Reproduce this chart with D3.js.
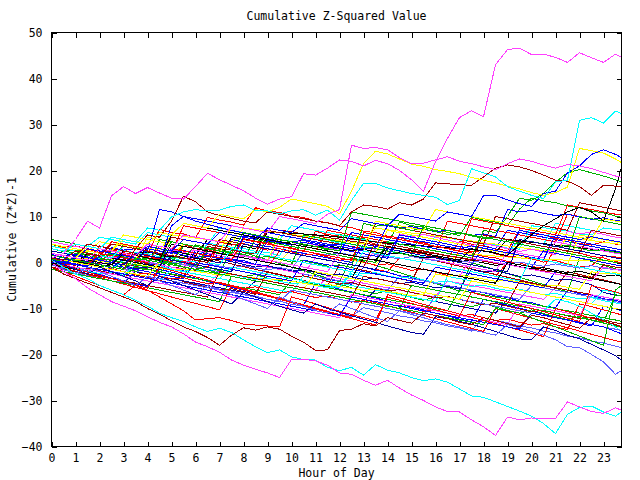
<!DOCTYPE html>
<html><head><meta charset="utf-8">
<script src="https://cdn.jsdelivr.net/npm/d3@7"></script>
<style>
body{margin:0;background:#fff}
svg{display:block;background:#fff}
text{font-family:"DejaVu Sans Mono",monospace;font-size:11.5px;fill:#000}
</style>
</head><body>
<svg id="chart" width="640" height="480"></svg>
<script>
// ---------- data ----------
const hours = [0,0.5,1,1.5,2,2.5,3,3.5,4,4.5,5,5.5,6,6.5,7,7.5,8,8.5,9,9.5,10,10.5,11,11.5,12,12.5,13,13.5,14,14.5,15,15.5,16,16.5,17,17.5,18,18.5,19,19.5,20,20.5,21,21.5,22,22.5,23,23.5,23.75];
const hourTicks = [0,1,2,3,4,5,6,7,8,9,10,11,12,13,14,15,16,17,18,19,20,21,22,23];
const valueTicks = [-40,-30,-20,-10,0,10,20,30,40,50];
const titleText = "Cumulative Z-Squared Value";
const xLabelText = "Hour of Day";
const yLabelText = "Cumulative (Z*Z)-1";

const b1 = [2,1.5,1,0.5,3,2.5,2,1.5, 1,0.5,0,-0.5,2,1.5,1,0.5, 0,-0.5,-1,2.5,2,1.5,1,0.5, 0,-0.5,-1,-1.5,-2,1,0.5,0, -0.5,-1,-1.5,-2,-2.5,-3,0,-0.5, -1,-1.5,-2,-2.5,-3,-3.5,-4,-4.5, -4.8];
const b2 = [4,3.2,2.4,1.6,0.8,0,4,3.2, 2.4,1.6,0.8,0,-0.8,-1.6,-2.4,3, 2.2,1.4,0.6,-0.2,-1,-1.8,-2.6,-3.4, -4.2,1,0.2,-0.6,-1.4,-2.2,-3,-3.8, -4.6,-5.4,-6.2,0,-0.8,-1.6,-2.4,-3.2, -4,-4.8,-5.6,-6.4,1,0.2,-0.6,-1.4, -1.8];
const b3 = [1,0.5,2.5,2,1.5,1,0.5,0, -0.5,-1,3,2.5,2,1.5,1,5, 4.5,4,3.5,3,2.5,2,1.5,1, 0.5,0,4,3.5,3,2.5,2,1.5, 1,0.5,0,-0.5,3.5,3,7,6.5, 6,5.5,5,4.5,4,3.5,3,2.5, 2.2];
const b4 = [-1,-1.5,-2,-2.5,-3,-1,-1.5,-2, -2.5,-3,-3.5,-4,-4.5,-5,-2,-2.5, -3,-3.5,-4,-4.5,-5,-5.5,-6,-3, -3.5,-4,-4.5,-5,-5.5,-6,-6.5,-7, -7.5,-4,-4.5,-5,-5.5,-6,-6.5,-7, -7.5,-8,-5.5,-6,-6.5,-7,-7.5,-8, -8.3];
const b5 = [5,4.5,4,3.5,5.5,5,4.5,4, 6.5,6,5.5,5,4.5,4,7.5,7, 6.5,6,5.5,5,8,7.5,7,6.5, 6,5.5,5,4.5,4,3.5,6,5.5, 5,4.5,4,3.5,3,2.5,2,5, 4.5,4,8.5,8,7.5,7,6.5,6, 5.8];
const b6 = [0,-0.6,-1.2,-1.8,1,0.4,-0.2,-0.8, -1.4,-2,-2.6,-3.2,1.5,0.9,0.3,-0.3, -0.9,-1.5,-2.1,-2.7,-3.3,-3.9,-4.5,-5.1, -0.5,-1.1,-1.7,-2.3,-2.9,-3.5,-4.1,1, 0.4,-0.2,-0.8,-1.4,-2,-2.6,-3.2,-3.8, -4.4,-5,-5.6,-2,-2.6,-3.2,-3.8,-4.4, -4.8];
const b7 = [3,2.5,2,1.5,1,0.5,3.5,3, 2.5,2,1.5,4,3.5,3,2.5,2, 1.5,1,0.5,0,3,2.5,2,1.5, 1,0.5,0,-0.5,2.5,2,1.5,1, 0.5,0,2,1.8,1.6,1.4,1.2,1, 0.8,0.7,0.6,0.5,0.5,0.5,0.4,0.4, 0.4];
const b8 = [1,0.5,0,2,1.5,1,0.5,0, 3.5,3,2.5,2,1.5,5,4.5,4, 3.5,3,6.5,6.5,6.3,6.2,6,5.8, 5.5,5.2,4.8,4.5,4.2,4,3.8,3.6, 3.4,3.2,3,2.8,2.5,2.2,5,4.7, 4.4,4.1,3.8,3.5,3.2,2.9,2.6,2.3, 2.1];
const b9 = [2,1.5,1,0.5,0,-0.5,-1,-1.5, 1,0.5,0,-0.5,-1,-1.5,-2,-2.5, -3,-3.5,-1,-1.5,-2,-2.5,-3,-3.5, -4,-4.5,-5,-5.5,-6,-3,-3.5,-4, -4.5,-5,-5.5,-6,-6.5,-7,-7.5,-8, -5,-5.5,-6,-6.5,-7,-7.5,-8,-8.5, -8.8];
const b10 = [-1.5,-2,-2.5,-3,-3.5,-4,-4.5,-2, -2.5,-3,-3.5,-4,-4.5,-5,-5.5,-6, -6.5,-4,-4.5,-5,-5.5,-6,-6.5,-7, -7.5,-8,-8.5,-6,-6.5,-7,-7.5,-8, -8.5,-9,-9.5,-10,-10.5,-11,-8,-8.5, -9,-9.5,-10,-10.5,-11,-11.5,-12,-12.5, -12.8];
const b11 = [3,2.5,2,1.5,1,4.5,4,3.5, 3,2.5,2,8,7.5,7,6.5,6, 5.5,5,4.5,4,3.5,3,2.5,7, 6.5,6,5.5,5,4.5,4,3.5,3, 2.5,9,8.5,8,7.5,7,6.5,6, 5.5,5,4.5,10.5,10,9.5,9,8.5, 8.2];
const b12 = [0,-0.5,-1,-1.5,-2,-2.5,-3,-1, -1.5,-2,-2.5,-3,-3.5,-4,-4.5,-5, -5.5,-6,-6.5,-7,-4,-4.5,-5,-5.5, -6,-6.5,-7,-7.5,-8,-8.5,-9,-9.5, -10,-10.5,-6,-6.5,-7,-7.5,-8,-8.5, -9,-9.5,-10,-10.5,-11,-11.5,-12,-12.5, -12.8];
const b13 = [4,3.5,3,2.5,2,4,3.5,3, 2.5,11.5,11,10,9,8.3,7.6,7, 6.4,5.8,5.2,4.6,4,3.5,3,2.5, 2,6.5,6,5.5,5,4.5,4,3.5, 3,2.5,2,1.5,1,0.5,0,-0.5, -1,2.5,2,1.5,1,0.5,0,-0.5, -0.8];
const b14 = [1.5,1,0.5,0,-0.5,1.5,1,0.5, 0,-0.5,-1,-1.5,2,1.5,1,0.5, 0,-0.5,-1,-1.5,-2,-2.5,1,0.5, 0,-0.5,-1,3,2.5,2,1.5,1, 0.5,0,-0.5,-1,-1.5,-2,2.5,2, 1.5,1,4.5,4,3.5,3,2.5,2, 1.8];
const b15 = [0.5,0,-0.5,-1,-1.5,-2,-2.5,-3, -3.5,-4,-1.5,-2,-2.5,-3,-3.5,-4, -4.5,-5,-5.5,-6,-6.5,-3,-3.5,-4, -4.5,-5,-5.5,-6,-6.5,-7,-7.5,-8, -8.5,-3,-3.5,-4,-4.5,-5,-5.5,-6, -6.5,-7,-7.5,-8,-8.5,-9,-6,-6.5, -6.8];
const b16 = [2.5,2,1.5,4,3.5,3,2.5,2, 1.5,1,5.5,5,4.5,4,3.5,3, 2.5,2,7,6.5,6,5.5,5,4.5, 4,3.5,3,8.5,8,7.5,7,6.5, 6,5.5,5,4.5,4,10,9.5,9, 8.5,8,7.5,7,13,12.5,12,11.5, 11.2];
const b17 = [4,3.5,3,2.5,2,1.5,1,0.5, 5.5,5,4.5,4,3.5,3,2.5,2, 1.5,1,0.5,6,5.5,5,4.5,4, 3.5,3,2.5,2,7,6.5,6,5.5, 5,4.5,4,3.5,3,2.5,2,1.5, 1,0.5,0,-0.5,6,5.5,5,4.5, 4.3];
const b18 = [-0.5,-1.2,-1.9,-2.6,-3.3,-4,-4.7,-5.4, -6.1,-6.8,-7.5,-8.2,-8.9,-9.6,-10.3,-5, -5.7,-6.4,-7.1,-7.8,-8.5,-9.2,-9.9,-10.6, -11.3,-12,-8,-8.7,-9.4,-10.1,-10.8,-11.5, -12.2,-12.9,-13.6,-14.3,-15,-10,-10.7,-11.4, -12.1,-12.8,-13.5,-14.2,-14.9,-15.6,-16.3,-17, -17.3];
const b19 = [3,2.5,2,1.5,1,0.5,0,-0.5, -1,5,4.5,4,3.5,3,2.5,2, 1.5,1,0.5,0,-0.5,6,5.5,5, 4.5,4,3.5,3,2.5,2,1.5,8, 7.5,7,6.5,6,5.5,5,4.5,4, 3.5,3,2.5,2,10,9.5,9,8.5, 8.2];
const b20 = [2,1.5,1,0.5,0,2.5,2,1.5, 1,0.5,0,3.5,3,2.5,2,1.5, 1,5,4.5,4,3.5,3,2.5,2, 1.5,1,0.5,0,4.5,4,3.5,3, 2.5,2,1.5,1,7,6.5,10,14, 13.5,15,17.5,19.5,20.2,19.5,18.8,18, 17.5];
const b21 = [-1,-1.5,1,0.5,0,-0.5,-1,-1.5, -2,-2.5,-3,-3.5,0,-0.5,-1,-1.5, -2,-2.5,-3,-3.5,-4,0.5,0,-0.5, -1,-1.5,-2,-2.5,-3,-3.5,-4,-4.5, -1,-1.5,-2,-2.5,-3,-3.5,-4,-4.5, -5,-5.5,-2,-2.5,-3,-3.5,-4,-4.5, -4.8];
const b22 = [4.5,4,3.5,3,2.5,2,1.5,1, 0.5,0,-0.5,-1,3.5,3,2.5,2, 1.5,1,0.5,0,-0.5,-1,-1.5,-2, 2,1.5,1,0.5,0,-0.5,-1,-1.5, -2,-2.5,-3,1,0.5,0,-0.5,-1, -1.5,-2,-2.5,-3,-3.5,-4,-1,-1.5, -1.8];
const b23 = [1,0.5,0,-0.5,-1,-1.5,0.5,0, -0.5,-1,-1.5,-2,-2.5,-3,-3.5,-1, -1.5,-2,-2.5,-3,-3.5,-4,-4.5,-5, -5.5,-2.5,-3,-3.5,-4,-4.5,-5,-5.5, -6,-6.5,-7,-7.5,-8,-8.5,-9,-9.5, -10,-10.5,-8,-8.5,-9.5,-11,-12.5,-14, -15];
const b24 = [-1,-1.5,-2,-2.5,-3,-3.5,-4,-4.5, -5,-5.5,-6,-6.5,-7,-7.5,-2,-2.5, -3,-3.5,-4,-4.5,-5,-5.5,-6,-6.5, -7,-7.5,-3,-3.5,-4,-4.5,-5,-5.5, -6,-6.5,-7,-7.5,-8,-8.5,-9,-4, -4.5,-5,-5.5,-6,-6.5,-7,-7.5,-8, -8.3];
const b25 = [5,4.5,4,3.5,3,2.5,6,5.5, 5,4.5,4,3.5,3,2.5,2,8, 7.5,7,6.5,6,5.5,5,4.5,4, 3.5,3,2.5,9,8.5,8,7.5,7, 11.5,11,10.5,10,9.5,9,8.5,8, 7.5,7,6.5,6,5.5,5,9.5,9, 8.8];
const b26 = [-0.5,-1,-1.5,2,1.5,1,0.5,0, -0.5,-1,4,3.5,3,2.5,2,1.5, 1,0.5,0,-0.5,-1,-1.5,-2,-2.5, -3,-3.5,1,0.5,0,-0.5,-1,-1.5, -2,-2.5,-3,-3.5,-4,-4.5,0,-0.5, -1,-1.5,-2,-2.5,-3,-3.5,-4,-4.5, -4.8];
const b27 = [1,0.5,0,-0.5,-1,-1.5,-2,-2.5, -3,-3.5,-4,-4.5,-5,-5.5,-6,-6.5, -7,-7.5,-8,-8.5,-6,-6.5,-7,-7.5, -8,-8.5,-9,-9.5,-10,-10.5,-11,-11.5, -7,-7.5,-8,-8.5,-9,-9.5,-10,-10.5, -11,-11.5,-12,-12.5,-13,-13.5,-14,-14.5, -14.8];
const b28 = [1,0.5,0,-0.5,2,1.5,1,0.5, 0,3.5,3,2.5,2,1.5,1,0.5, 5,4.5,4,3.5,3,2.5,2,1.5, 1,0.5,6.5,6,5.5,5,4.5,4, 3.5,3,2.5,9.5,9,8.5,8,7.5, 7,6.5,6,12.5,12,11.5,11,10.5, 10.3];
const b29 = [-1.5,-2,-2.5,-3,-3.5,-4,-4.5,-5, -5.5,-6,-6.5,-7,-7.5,-8,-8.5,-3, -3.5,-4,-4.5,-5,-5.5,-6,-6.5,-7, -7.5,-8,-8.5,-9,-9.5,-10,-5,-5.5, -6,-6.5,-7,-7.5,-8,-8.5,-9,-9.5, -10,-10.5,-11,-11.5,-12,-12.5,-13,-7, -7.3];
const b30 = [2,1.5,1,3,2.5,2,1.5,1, 0.5,0,8,10,9.5,9,8.5,8, 7.5,7,6.5,6,5.5,5,4.5,4, 3.5,3,2.5,2,1.5,6,5.5,5, 4.5,4,3.5,3,2.5,2,1.5,7, 6.5,6,5.5,5,4.5,4,3.5,3, 2.8];
const b31 = [0,-0.5,-1,-1.5,-2,-2.5,-3,-3.5, -4,-4.5,-5,-5.5,-6,-6.5,-7,-7.5, -8,-8.5,-9,-9.5,-10,-10.5,-11,-11.5, -12,-7,-7.5,-8,-8.5,-9,-9.5,-10, -10.5,-11,-11.5,-12,-12.5,-13,-13.5,-9, -9.5,-10,-10.5,-11,-11.5,-7,-7.5,-8, -8.3];
const b32 = [3.5,3,2.5,2,1.5,1,3.5,3, 2.5,2,1.5,1,0.5,0,-0.5,3, 2.5,2,1.5,1,0.5,0,-0.5,-1, -1.5,-2,2.5,2,1.5,1,0.5,0, -0.5,-1,-1.5,-2,-2.5,-3,-3.5,-4, 1,0.5,0,-0.5,-1,-1.5,-2,-2.5, -2.8];
const b33 = [1.5,1,0.5,0,-0.5,-1,-1.5,3, 2.5,2,1.5,1,0.5,0,5,4.5, 4,3.5,3,2.5,2,1.5,1,0.5, 0,-0.5,-1,4.5,4,3.5,3,2.5, 2,1.5,1,0.5,6,5.5,5,4.5, 4,3.5,3,2.5,2,7,6.5,6, 5.8];
const b34 = [0,-0.7,-1.4,-2.1,-2.8,-3.5,-4.2,-4.9, -5.6,-1,-1.7,-2.4,-3.1,-3.8,-4.5,-5.2, -5.9,-6.6,-7.3,-8,-8.7,-9.4,-10.1,-10.8, -11.5,-12.2,-12.9,-13.6,-7,-7.7,-8.4,-9.1, -9.8,-10.5,-11.2,-11.9,-12.6,-13.3,-14,-14.7, -15.4,-16.1,-10,-10.7,-11.4,-12.1,-12.8,-13.5, -13.9];
const b35 = [1,0.5,0,-0.5,-1,-1.5,-2,-2.5, -3,0,-0.5,-1,-1.5,-2,-2.5,-3, -3.5,-4,-4.5,-5,-5.5,-6,-2,-2.5, -3,-3.5,-4,-4.5,-5,-5.5,-6,-6.5, -7,-7.5,-8,-4,-4.5,-5,-5.5,-6, -6.5,-7,-7.5,-8,-8.5,-9,-9.5,-10, -10.3];
const b36 = [2.5,2,1.5,1,0.5,0,-0.5,2, 1.5,1,0.5,0,-0.5,-1,-1.5,-2, 4,3.5,3,2.5,2,1.5,1,0.5, 0,-0.5,-1,-1.5,3,2.5,2,1.5, 1,0.5,0,-0.5,-1,-1.5,-2,5, 4.5,4,3.5,3,2.5,2,1.5,1, 0.8];
const b37 = [5,4.5,4,3.5,3,2.5,2,1.5, 1,0.5,4.5,4,3.5,3,2.5,2, 6.5,6,5.5,5,4.5,4,3.5,3, 2.5,11,10.5,10,9.5,9,8.5,8, 7.5,7,6.5,6,5.5,5,4.5,4, 3.5,3,2.5,2,1.5,1,0.5,0, -0.3];
const b38 = [0.5,0,-0.5,-1,-1.5,-2,-2.5,-3, -3.5,-4,-4.5,-5,-5.5,-6,-6.5,-7, -7.5,-8,-8.5,-9,-9.5,-10,-10.5,-11, -11.5,-7.5,-8,-8.5,-9,-9.5,-10,-10.5, -11,-11.5,-12,-12.5,-13,-13.5,-14,-14.5, -11,-11.5,-12,-12.5,-13,-13.5,-14,-15, -15.5];

const n1 = [0.5,1.2,0.6,0.1,-0.3,2.8,2.1,1.7, 1.0,0.8,0.2,3.9,3.1,2.8,2.0,1.6, 5.2,4.6,4.3,3.5,3.2,2.4,6.8,6.1, 5.7,5.0,4.8,4.0,3.3,3.0,2.2,1.9, 1.1,0.8,4.6,4.0,3.7,2.9,2.6,7.1, 6.3,6.0,5.2,4.9,4.1,3.8,4.5,4.0, 3.8];
const n2 = [1.8,1.1,0.7,-0.1,-0.4,-1.2,0.9,0.4, -0.3,-0.6,-1.4,-1.7,2.6,1.9,1.5,0.7, 0.4,-0.4,-0.7,-1.5,-1.8,-2.6,-2.9,-3.7, -4.0,-4.8,-1.0,-1.7,-2.1,-2.9,-3.2,-4.0, -4.3,-5.1,-5.4,-6.2,-6.5,-7.3,-7.6,-8.4, -8.7,-9.5,-9.8,-6.0,-6.8,-7.1,-7.9,-8.2, -8.6];
const n3 = [-0.5,-0.9,1.4,1.0,0.3,0.1,-0.6,-0.8, 2.2,1.9,1.1,0.9,3.8,3.2,2.9,2.1, 1.8,1.0,5.5,4.9,4.6,3.8,3.5,2.7, 6.1,5.6,5.2,4.4,4.1,8.8,8.0,7.7, 6.9,6.6,5.8,9.9,9.2,8.8,8.0,11.6, 14.0,13.4,13.0,12.3,11.9,11.2,10.8,10.1, 9.8];
const n4 = [1.0,0.4,0.1,-0.5,3.6,3.0,2.7,2.0, 1.7,7.2,6.5,6.2,5.4,9.8,9.2,8.8, 8.1,11.9,11.2,10.9,10.1,9.8,9.0,8.7, 7.9,7.6,6.8,6.5,5.7,5.4,4.6,4.3, 3.5,3.2,2.4,2.1,1.3,1.0,0.2,-0.1, -0.9,-1.2,3.1,2.4,2.1,1.3,1.0,0.2, 0.0];
const n5 = [-1.0,-1.6,-2.1,-2.9,-3.2,-4.0,-4.3,-1.9, -2.5,-2.9,-3.6,-4.0,-4.7,-5.1,-5.8,-6.2, -6.9,-7.3,-8.0,-8.4,-9.1,-9.5,-10.2,-10.6, -11.3,-11.7,-9.8,-10.4,-10.9,-11.6,-12.0,-12.7, -13.1,-13.8,-14.2,-14.9,-12.0,-12.6,-13.1,-13.8, -14.2,-14.9,-15.3,-16.0,-16.4,-17.1,-17.5,-18.2, -18.5];
const n6 = [2.5,2.0,1.8,1.1,0.9,3.0,2.6,2.1, 1.9,1.2,1.0,0.3,0.1,4.2,3.8,3.3, 3.1,2.4,2.2,1.5,6.0,5.6,5.1,4.9, 4.2,4.0,3.3,3.1,2.4,2.2,1.5,1.3, 5.8,5.4,4.9,4.7,4.0,3.8,3.1,2.9, 8.0,7.6,7.1,6.9,6.2,6.0,7.5,7.2, 7.0];
const n7 = [0.2,-0.3,-0.6,1.8,1.4,1.1,0.6,0.3, -0.2,-0.5,-1.0,-1.3,-1.8,3.5,3.0,2.7, 2.2,1.9,7.5,7.0,6.7,6.2,5.9,5.4, 5.1,4.6,4.3,3.8,3.5,3.0,2.7,2.2, 1.9,1.4,1.1,0.6,0.3,-0.2,-0.5,-1.0, -1.3,-1.8,-2.1,-2.6,-2.9,-3.4,-0.5,-1.0, -1.2];
const n8 = [0.0,-0.8,-1.3,-2.1,-2.6,-3.4,-3.9,-4.7, -5.2,-1.5,-2.1,-2.8,-3.4,-4.1,-4.7,-5.4, -6.0,-6.7,-7.3,-8.0,-8.6,-9.3,-4.5,-5.1, -5.8,-6.4,-7.1,-7.7,-8.4,-9.0,-9.7,-10.3, -11.0,-11.6,-12.3,-12.9,-8.0,-8.6,-9.3,-9.9, -10.6,-11.2,-11.9,-12.5,-13.2,-13.8,-9.5,-10.1, -10.5];
const n9 = [3.5,3.1,2.6,2.4,4.5,4.0,3.8,3.3, 3.1,2.6,6.0,5.7,5.3,5.0,4.6,4.3, 7.5,7.2,6.8,6.5,6.1,5.8,5.4,5.1, 4.7,4.4,4.0,7.5,7.1,6.8,6.4,6.1, 5.7,5.4,5.0,4.7,4.3,4.0,3.6,3.3, 2.9,2.6,2.2,5.5,5.1,4.8,4.4,4.1, 3.9];
const n10 = [0.8,0.1,0.4,-0.4,-0.9,-0.5,-1.3,-1.9, -1.4,-2.2,-0.2,-0.9,-1.5,-1.0,-1.8,-2.5, -3.1,-2.6,-3.4,-4.0,-3.3,-4.1,-4.8,-5.3, -4.7,-5.5,-6.2,-6.8,-6.1,-6.9,-7.6,-8.2, -7.5,-8.3,-9.0,-9.6,-8.9,-9.7,-10.4,-11.0, -10.3,-11.1,-11.8,-12.4,-11.7,-12.5,-13.2,-13.8, -14.1];
const n11 = [-0.2,0.5,0.0,-0.6,1.5,0.9,1.4,0.8, 0.2,-0.4,2.8,2.2,2.7,2.1,1.5,0.9, 1.4,0.8,0.2,4.5,3.9,4.4,3.8,3.2, 2.6,3.1,2.5,1.9,1.3,6.2,5.6,6.1, 5.5,4.9,4.3,3.7,4.2,3.6,3.0,2.4, 2.9,2.3,1.7,6.8,6.2,6.7,6.1,5.5, 5.3];
const n12 = [1.2,0.6,0.9,0.2,-0.4,-0.1,-0.7,-1.3, -1.0,-1.6,1.5,0.9,1.2,0.5,-0.1,0.2, -0.4,-1.0,-0.7,-1.3,-1.9,-1.6,-2.2,-2.8, -2.5,-3.1,-3.7,-3.4,-4.0,-4.6,-4.3,-4.9, -5.5,-5.2,-5.8,-1.5,-2.1,-1.8,-2.4,-3.0, -2.7,-3.3,-3.9,-3.6,-4.2,-4.8,-6.5,-7.1, -7.3];
const n13 = [4.0,3.3,3.6,2.9,2.2,2.5,1.8,1.1, 1.4,0.7,0.0,0.3,-0.4,-1.1,4.5,3.8, 4.1,3.4,2.7,3.0,2.3,1.6,1.9,1.2, 0.5,0.8,0.1,-0.6,-0.3,-1.0,-1.7,-1.4, -2.1,-2.8,3.0,2.3,2.6,1.9,1.2,1.5, 0.8,0.1,0.4,-0.3,-1.0,-0.7,1.5,1.2, 1.0];
const n14 = [-1.0,-1.5,-1.2,-1.9,-2.4,-2.1,-2.8,-0.5, -1.0,-0.7,-1.4,-1.9,-1.6,-2.3,-2.8,-2.5, -3.2,-3.7,-3.4,-4.1,-4.6,-4.3,-5.0,-5.5, -5.2,-2.0,-2.5,-2.2,-2.9,-3.4,-3.1,-3.8, -4.3,-4.0,-4.7,-5.2,-4.9,-5.6,-6.1,-5.8, -6.5,-7.0,-6.7,-7.4,-7.9,-7.6,-8.3,-8.8, -9.0];
const n15 = [0.5,0.0,0.3,-0.3,-0.8,-0.5,2.5,2.0, 2.3,1.7,1.2,1.5,0.9,0.4,0.7,5.5, 5.0,5.3,4.7,4.2,4.5,3.9,3.4,3.7, 3.1,2.6,2.9,2.3,1.8,2.1,1.5,1.0, 1.3,0.7,0.2,0.5,-0.1,-0.6,-0.3,-0.9, -1.4,-1.1,-1.7,-2.2,-1.9,-2.5,-3.0,-2.7, -3.0];
const n16 = [2.0,1.5,1.8,1.2,0.7,3.2,2.7,3.0, 2.4,1.9,2.2,1.6,1.1,1.4,0.8,0.3, 5.8,5.3,5.6,5.0,4.5,4.8,4.2,3.7, 4.0,3.4,2.9,3.2,8.0,7.5,7.8,7.2, 6.7,7.0,6.4,5.9,6.2,5.6,11.5,11.0, 11.3,10.7,10.2,10.5,9.9,9.4,9.7,9.1, 9.0];
const n17 = [-0.3,-0.9,-1.5,-1.2,-1.8,-2.4,-3.0,-2.7, -3.3,-3.9,-4.5,-4.2,-4.8,-5.4,-6.0,-5.7, -6.3,-6.9,-2.0,-2.6,-3.2,-2.9,-3.5,-4.1, -4.7,-4.4,-5.0,-5.6,-6.2,-5.9,-6.5,-7.1, -7.7,-7.4,-8.0,-8.6,-9.2,-8.9,-9.5,-10.1, -10.7,-10.4,-11.0,-11.6,-12.2,-11.9,-12.5,-13.1, -13.4];
const n18 = [1.5,1.0,0.6,0.9,0.3,-0.1,-0.6,-0.3, -0.8,-1.2,-1.7,-1.4,-1.9,-2.3,-2.8,-2.5, -3.0,-3.4,-3.9,-3.6,-4.1,-4.5,-5.0,-4.7, -5.2,-5.6,-6.1,-5.8,-6.3,-6.7,-7.2,-6.9, -2.5,-3.0,-2.7,-3.2,-3.6,-4.1,-3.8,-4.3, -4.7,-5.2,-4.9,-5.4,-5.8,-2.0,-2.5,-2.2, -2.5];
const n19 = [-1.5,-1.0,-1.4,-1.9,-1.5,-2.0,-2.4,0.5, 0.0,-0.4,0.1,-0.4,-0.8,-0.3,-0.8,-1.2, -0.7,-1.2,-1.6,-1.1,-1.6,2.5,2.0,1.6, 2.1,1.6,1.2,1.7,1.2,0.8,1.3,0.8, 0.4,0.9,0.4,0.0,0.5,0.0,-0.4,0.1, -0.4,-0.8,-0.3,-0.8,-1.2,-0.7,-1.2,-1.6, -1.4];
const n20 = [3.0,2.4,2.7,2.1,1.5,1.8,1.2,0.6, 0.9,0.3,-0.3,0.0,-0.6,2.5,1.9,2.2, 1.6,1.0,1.3,0.7,0.1,0.4,-0.2,-0.8, -0.5,-1.1,8.5,7.9,8.2,7.6,7.0,7.3, 6.7,6.1,6.4,5.8,5.2,5.5,4.9,4.3, 4.6,4.0,3.4,3.7,3.1,2.5,2.8,2.2, 2.0];
const n21 = [0.0,-0.6,-0.3,-1.0,-1.6,-1.3,-2.0,-2.6, -2.3,-3.0,-3.6,-3.3,-4.0,-4.6,-4.3,-5.0, -5.6,-5.3,-6.0,-6.6,-6.3,-7.0,-7.6,-7.3, -8.0,-8.6,-8.3,-9.0,-9.6,-9.3,-10.0,-10.6, -10.3,-11.0,-11.6,-11.3,-12.0,-12.6,-12.3,-13.0, -13.6,-13.3,-14.0,-14.6,-9.0,-9.6,-10.3,-11.0, -11.4];
const n22 = [-0.5,0.2,-0.3,-0.8,1.5,1.0,0.5,0.0, 3.0,2.5,2.0,2.6,2.1,1.6,1.1,0.6, 0.1,-0.4,4.8,4.3,3.8,4.4,3.9,3.4, 2.9,2.4,1.9,1.4,0.9,5.5,5.0,4.5, 4.0,3.5,3.0,3.6,3.1,2.6,2.1,1.6, 1.1,0.6,6.0,5.5,5.0,5.6,5.1,4.6, 4.4];

// prominent traces
const blackLate = [2,1.5,1,0.5,0,-0.5,2,1.5, 1,0.5,6,8.5,8,7.5,7,6.5, 6,5.5,5,4.5,4,3.5,3,2.5, 2,1.5,1,0.5,3.5,3,2.5,2, 1.5,1,0.5,3,2.5,2,1.5,4, 6,8,9.5,11,12,11,9,16, 20.8];
const greenLate = [1.5,1,0.5,0,-0.5,-1,-1.5,1, 0.5,0,-0.5,-1,-1.5,-2,-2.5,-3, -3.5,-4,-4.5,-5,-5.5,-6,-6.5,-7, -7.5,-8,-8.5,-9,-9.5,-10,-10.5,-11, -11.5,-12,-12.5,-13,-13.5,-10,-10.5,-11, -12,-13,-14,-15,-16,-17,-18,-6, -5];
const redLow = [-1,-2,-3,-4,-5,-6,-7,-5, -6,-7.5,-9,-10.5,-12.5,-12.2,-12,-12.6, -13.4,-13.6,-13.8,-14,-7.5,-8.2,-9,-9.8, -10.6,-11.3,-12,-12.6,-7.5,-8.2,-8.9,-9.6, -10.3,-11,-11.7,-6.5,-7.2,-7.9,-8.6,-9.3, -10,-10.7,-11.4,-12.1,-12.8,-5,-5.7,-6.4, -6.8];
const navyLow = [0.5,-0.5,-1.5,-2.5,-1,-2,-3,-4, -5,-3,-4,-5,-6,-7,-8,-9, -6.5,-7.5,-8.5,-9.5,-10.3,-11,-9,-10, -10.8,-11.6,-12.3,-13,-13.8,-14.5,-15.2,-15.6, -11.8,-12.2,-12.8,-13.4,-14.2,-15,-15.8,-16.6, -16.8,-14,-14.8,-15.8,-16.6,-17.8,-19,-20.3, -21.2];
const slateLow = [-0.5,-1.5,-2.5,-1,-2,-3,-4,-5, -3,-4,-5,-6,-7,-5,-6,-7, -8,-9,-10,-7.5,-8.5,-9.5,-10.5,-11, -9,-10,-11,-12,-12.8,-10.5,-11.3,-12, -12.8,-13.5,-14,-14.6,-15.2,-15.8,-13.5,-14.2, -15,-15.8,-16.8,-18.3,-18.5,-20,-21.6,-24.3, -23.5];
const darkRedLow = [-1,-2.5,-3.5,-4.5,-5.5,-6.5,-7.5,-8.5, -10,-11.2,-12.7,-14,-15,-16.3,-18,-15.8, -14.2,-14.7,-14,-14.5,-16,-17.3,-19.1,-19, -14.8,-14.5,-13.3,-13.8,-12,-12.6,-13.2,-11, -11.5,-12.2,-13,-13.5,-12,-12.6,-13.3,-14, -11.5,-12,-12.8,-13.5,-14.3,-12,-12.7,-13.5, -14];
const blueHigh = [0,-0.5,1.5,1,0.5,0,2,1.5, 3.5,3,2.5,5,4.5,4,6.5,6, 5.5,5,7.5,7,6.5,8.5,8,7.5, 7,9.5,9,8.5,8,10.5,10,9.5, 9,11,10.5,10,14.5,14.6,13.6,12.8, 12.2,15,15.5,19.5,21,23.5,24.5,23.5, 22.8];
const darkRedHigh = [1,0.5,2.5,2,1.5,4,3.5,3, 6,5.5,9,14.4,13.2,11,10.2,9.6, 9,8.6,11,10.5,10,9.5,9,8.6, 8,11,12.5,12.2,11.6,13,12.5,13.8, 17.3,17.1,16.9,16.8,18.6,20.5,21.2,20.8, 20,19,17.9,17.7,16.5,14.6,16.8,16.6, 16.4];
const yellowHigh = [2,1.5,1,3.5,3,2.5,5,4.5, 4,6.5,6,8.5,8,7.5,10.5,10, 9.5,11.5,11,12,13.8,13.3,12.8,12.2, 10.6,15.5,21.5,24.2,23.6,22.5,21.4,20.9, 20.2,19.8,19.3,18.5,17.9,17.3,16.6,16, 15.2,14.6,15.2,16.4,24.8,24.3,23.8,22.5, 21.7];
const cyanHigh = [3,2.5,4,3.5,3,5.5,5,4.5, 7.5,7,9.9,11,11.5,11.2,11.4,12.2, 12.5,11.3,11.2,10.6,11.2,11.5,10.3,11.4, 9.2,13.5,17.2,17.2,16.2,15.6,15,14.6, 14.2,12.6,13.5,20.4,19.5,18.6,16.5,15.5, 14.6,13.9,17.5,17.9,30.9,31.5,30.3,32.9, 32.4];
const magentaSecond = [2,1.5,1,0.5,3,2.5,2,1.5, 4,3.5,3,6,5.5,5,4.5,8, 7.5,7,6.5,10,9.5,9,8.5,10.5, 11.5,25.5,24.8,25,24.5,22.8,21.5,21.6, 22.3,23,22,21.5,20.8,20.2,21.5,22.5, 22,21.2,20.5,21.3,21,20.4,19.6,18.8, 18.5];
const magentaTop = [1,2,5,9,7.5,14.5,16.5,15, 16.3,15.1,14,13.8,16.5,19.4,18,16.8, 15.6,14,12.7,13.8,14.3,19.3,19,20.5, 22.3,22,21,22.2,21.5,20,18,15.5, 21.9,27,31.5,33,31.7,43,46.3,46.6, 45.2,45.3,44.6,43.5,45.6,44.5,43.5,45.3, 44.6];
const cyanBottom = [0.5,-1,-2.5,-3.5,-5,-6,-7,-8.2, -9.5,-11,-12,-12.8,-14,-15,-14.3,-15.2, -16.8,-18.3,-19.6,-19,-20.5,-21.1,-21.2,-22.8, -23.5,-22.8,-24.5,-22.2,-23.4,-24,-25,-25.7, -25.3,-26,-27.5,-29,-29.3,-30.3,-31.3,-32.3, -33.4,-35,-37.2,-33,-31.5,-31.2,-32.5,-33.4, -32.5];
const magentaBottom = [0,-2,-3.5,-5.5,-7,-8.5,-9.5,-10.5, -11.8,-13,-14,-15.5,-17.3,-18.3,-19.5,-21.2, -22.3,-23.2,-24,-25,-21.1,-21,-21.4,-22.3, -24,-24.3,-25.6,-26.7,-25.6,-27.3,-28.8,-30, -31.4,-32.4,-32.5,-34.2,-35.7,-37.6,-33.6,-34.2, -33.8,-34,-33.9,-30.3,-31.4,-32.4,-32.8,-31.6, -32.1];

const seriesValues = [b1,n1,b2,n2,b3,n3,b4,n4,b5,n5,b6,n6,b7,n7,b8,n8,b9,n9,b10,n10,
  b11,n11,b12,n12,b13,n13,b14,n14,b15,n15,b16,n16,b17,n17,b18,n18,b19,n19,b20,n20,
  b21,n21,b22,n22,b23,b24,b25,b26,b27,b28,b29,b30,b31,b32,b33,b34,b35,b36,b37,b38,
  blackLate,greenLate,redLow,navyLow,slateLow,darkRedLow,blueHigh,darkRedHigh,yellowHigh,cyanHigh,
  magentaSecond,magentaTop,cyanBottom,magentaBottom];
const seriesColorNames = ["red","red","green","blue","blue","green","magenta","red","cyan","slate",
  "darkred","cyan","yellow","darkred","black","blue","slate","yellow","navy","green",
  "red","magenta","green","navy","blue","red","magenta","cyan","cyan","black",
  "darkred","blue","yellow","darkred","red","yellow","green","slate","green","green",
  "blue","red","magenta","blue","cyan","darkred","yellow","black","slate","red",
  "green","blue","magenta","cyan","darkred","red","yellow","navy","green","blue",
  "black","green","red","navy","slate","darkred","blue","darkred","yellow","cyan",
  "magenta","magenta","cyan","magenta"];

// ---------- style ----------
const palette = {red:"#ff0000",green:"#00b000",blue:"#0000ff",magenta:"#ff40ff",cyan:"#00ffff",
  darkred:"#a00000",yellow:"#ffff00",black:"#000000",slate:"#6060ff",navy:"#0000a0"};

seriesValues.forEach((s,i)=>{ if(s.length!==hours.length) console.error("series "+i+" length "+s.length); });
if (seriesValues.length!==seriesColorNames.length) console.error("colour count mismatch");

const svg = d3.select("#chart");
const L=51.5, R=621.5, T=32.5, B=446.5;
const x = d3.scaleLinear().domain([0,23.75]).range([L,R]);
const y = d3.scaleLinear().domain([-40,50]).range([B,T]);

svg.append("defs").append("clipPath").attr("id","plotclip")
  .append("rect").attr("x",L).attr("y",T).attr("width",R-L).attr("height",B-T);

const line = d3.line().x((d,i)=>x(hours[i])).y(d=>y(d));
svg.append("g").attr("clip-path","url(#plotclip)")
  .selectAll("path").data(seriesValues).join("path")
  .attr("d",line)
  .attr("fill","none")
  .attr("stroke",(d,i)=>palette[seriesColorNames[i]])
  .attr("stroke-width",1)
  .attr("shape-rendering","crispEdges");

function styleAxis(g){
  g.select(".domain").remove();
  g.selectAll("line").attr("stroke","#000").attr("shape-rendering","crispEdges");
  g.attr("font-family",null).attr("font-size",null);
}
svg.append("g").attr("transform",`translate(0,${B})`)
  .call(d3.axisBottom(x).tickValues(hourTicks).tickSizeInner(-5).tickSizeOuter(0).tickPadding(7).tickFormat(d3.format("d")))
  .call(styleAxis);
svg.append("g").attr("transform",`translate(0,${T})`)
  .call(d3.axisTop(x).tickValues(hourTicks).tickSizeInner(-5).tickSizeOuter(0).tickFormat(""))
  .call(styleAxis);
svg.append("g").attr("transform",`translate(${L},0)`)
  .call(d3.axisLeft(y).tickValues(valueTicks).tickSizeInner(-5).tickSizeOuter(0).tickPadding(9).tickFormat(d3.format("d")))
  .call(styleAxis);
svg.append("g").attr("transform",`translate(${R},0)`)
  .call(d3.axisRight(y).tickValues(valueTicks).tickSizeInner(-5).tickSizeOuter(0).tickFormat(""))
  .call(styleAxis);

svg.append("rect").attr("x",L).attr("y",T).attr("width",R-L).attr("height",B-T)
  .attr("fill","none").attr("stroke","#000").attr("stroke-width",1).attr("shape-rendering","crispEdges");

svg.append("text").attr("x",(L+R)/2).attr("y",20).attr("text-anchor","middle").text(titleText);
svg.append("text").attr("x",(L+R)/2).attr("y",477).attr("text-anchor","middle").text(xLabelText);
svg.append("text").attr("transform",`translate(15.7,${(T+B)/2}) rotate(-90)`).attr("text-anchor","middle").text(yLabelText);
</script>
</body></html>
